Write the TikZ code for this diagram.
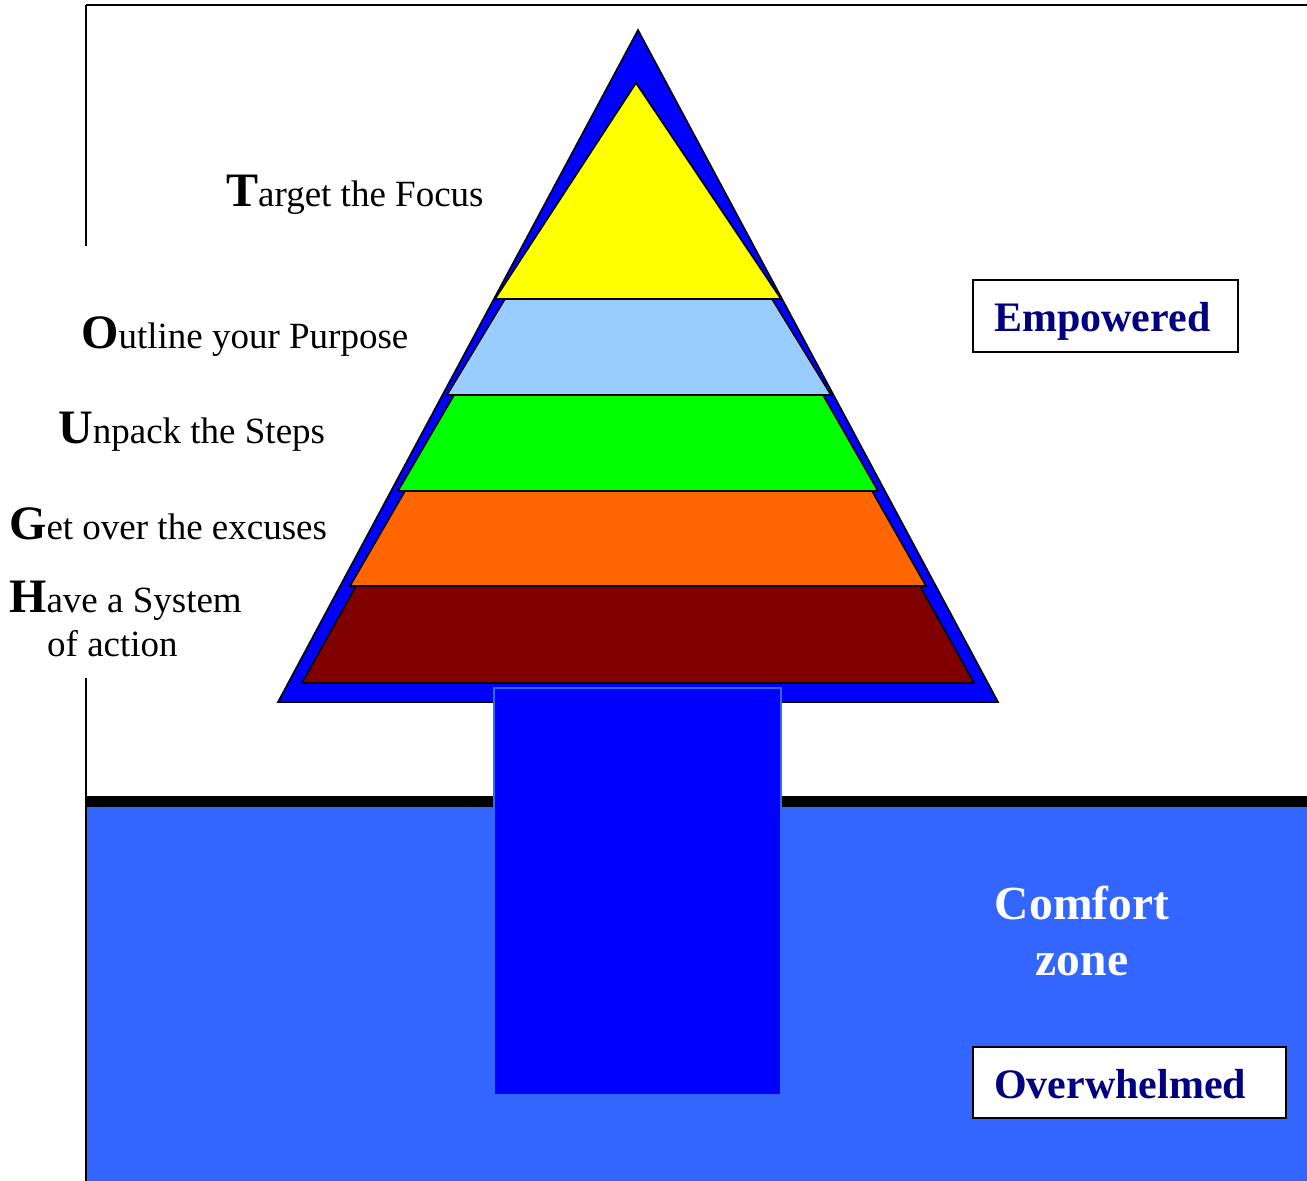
\documentclass[tikz,border=0pt]{standalone}
\usepackage{fontspec}
\setmainfont{Liberation Serif}
\definecolor{zoneblue}{HTML}{3366FF}
\definecolor{pureblue}{HTML}{0000FF}
\definecolor{lightblu}{HTML}{99CCFF}
\definecolor{greenc}{HTML}{00FF00}
\definecolor{yellowc}{HTML}{FFFF00}
\definecolor{orng}{HTML}{FF6600}
\definecolor{maroonc}{HTML}{800000}
\definecolor{navyc}{HTML}{000080}
\newcommand{\initial}[1]{{\fontsize{48}{48}\selectfont\bfseries #1}}
\begin{document}
\begin{tikzpicture}[x=1pt,y=-1pt,
  framel/.style={line width=2pt,draw=black},
  layer/.style={draw=black,line width=1.6pt,line join=miter},
  steplabel/.style={anchor=base west,inner sep=0pt,font=\fontsize{37}{44}\selectfont},
  statebox/.style={draw=black,line width=2pt,fill=white},
  statetext/.style={anchor=base west,inner sep=0pt,text=navyc,font=\fontsize{42}{48}\selectfont\bfseries},
  zonetext/.style={anchor=base,inner sep=0pt,text=white,font=\fontsize{47.5}{52}\selectfont\bfseries}]
\useasboundingbox (0,0) rectangle (1307,1181);
% frame
\draw[framel] (86,5) -- (1307,5);
\draw[framel] (86,5) -- (86,246);
\draw[framel] (86,678) -- (86,1181);
% comfort zone
\fill[zoneblue] (86,807) rectangle (1307,1181);
\fill[black] (86,796) rectangle (1307,807);
\draw[framel] (86,796) -- (86,1181);
% pyramid
\draw[layer,fill=pureblue] (638,30) -- (998,702) -- (278,702) -- cycle;
\draw[layer,fill=yellowc] (636,83) -- (781,299) -- (495,299) -- cycle;
\draw[layer,fill=lightblu] (505,299) -- (772,299) -- (831,395) -- (447,395) -- cycle;
\draw[layer,fill=greenc] (454,395) -- (823,395) -- (878,491) -- (398,491) -- cycle;
\draw[layer,fill=orng] (405,491) -- (872,491) -- (926,586) -- (350,586) -- cycle;
\draw[layer,fill=maroonc] (356,586) -- (920,586) -- (974,683) -- (302,683) -- cycle;
% stem
\draw[fill=pureblue,draw=zoneblue,line width=1.5pt] (494,688) rectangle (781,1095);
% step labels
\node[steplabel] (t) at (226,206) {\initial{T}arget the Focus};
\node[steplabel] (o) at (81,348) {\initial{O}utline your Purpose};
\node[steplabel] (u) at (58,443) {\initial{U}npack the Steps};
\node[steplabel] (g) at (9,539) {\initial{G}et over the excuses};
\node[steplabel] (h) at (9,612) {\initial{H}ave a System};
\node[steplabel] (h2) at (47,656) {of action};
% state boxes
\draw[statebox] (973,280) rectangle (1238,352);
\node[statetext] (emp) at (994,331) {Empowered};
\draw[statebox] (973,1047) rectangle (1286,1118);
\node[statetext] (ovw) at (994,1098) {Overwhelmed};
\node[zonetext] (cz1) at (1082,919) {Comfort};
\node[zonetext] (cz2) at (1082,975) {zone};
\end{tikzpicture}
\end{document}
